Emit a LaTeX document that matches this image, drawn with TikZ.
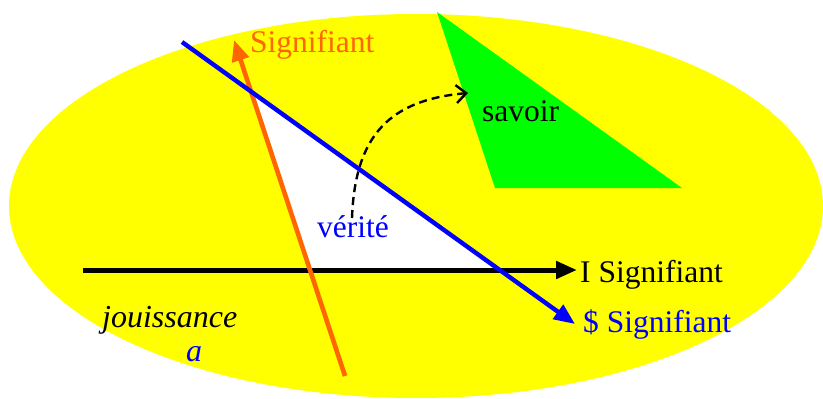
\documentclass[tikz,border=0pt]{standalone}
\usepackage{fontspec}
\setmainfont{Liberation Serif}
\newfontfamily\tnr{Liberation Serif}
\usetikzlibrary{arrows.meta,calc}
\definecolor{yel}{HTML}{FFFF00}
\definecolor{grn}{HTML}{00FF00}
\definecolor{org}{HTML}{FF6600}
\definecolor{blu}{HTML}{0000FF}
\tikzset{
  lbl/.style={anchor=base west,inner sep=0pt,font=\tnr\fontsize{31.5}{36}\selectfont},
  ilbl/.style={anchor=base west,inner sep=0pt,font=\tnr\itshape\fontsize{32}{36}\selectfont},
  bigtip/.style={-{Triangle[length=21pt,width=17pt]}},
}
\begin{document}
\begin{tikzpicture}[x=1pt,y=-1pt]
\useasboundingbox (0,0) rectangle (823,399);
% yellow ellipse
\fill[yel] (416,206) ellipse [x radius=407, y radius=192];
% coordinates of the three lines
\coordinate (oS) at (345,376);
\coordinate (oE) at (234,40);
\coordinate (bS) at (182,42);
\coordinate (bE) at (575,324);
\coordinate (kS) at (83,270);
\coordinate (kE) at (577,270);
% white triangle
\coordinate (t1) at (intersection of oS--oE and bS--bE);
\coordinate (t2) at (intersection of oS--oE and kS--kE);
\coordinate (t3) at (intersection of bS--bE and kS--kE);
\fill[white] (t1) -- (t2) -- (t3) -- cycle;
% green triangle
\coordinate (g1) at (437,12);
\coordinate (g2) at (495,188);
\coordinate (g3) at (682,188);
\fill[grn] (g1) -- (g2) -- (g3) -- cycle;
% lines
\draw[line width=5pt,bigtip] (kS) -- (kE);
\draw[org,line width=4.6pt,bigtip] (oS) -- (oE);
\draw[blu,line width=4.4pt,bigtip] (bS) -- (bE);
% dashed arrow
\coordinate (dS) at (352,218);
\coordinate (dE) at (468,93);
\draw[line width=2.4pt,dash pattern=on 8pt off 5pt,-{Straight Barb[length=10pt,width=18pt,line width=2.4pt]}]
  (dS) .. controls (355,135) and (390,100) .. (dE);
% labels
\node[lbl,text=org] (sig) at (250,52) {Signifiant};
\node[lbl] (sav) at (482,121) {savoir};
\node[lbl,text=blu] (ver) at (317,237) {vérité};
\node[lbl] (isig) at (580,282) {I Signifiant};
\node[lbl,text=blu] (ssig) at (583,332) {\$ Signifiant};
\node[ilbl] (jou) at (102,327) {jouissance};
\node[ilbl,text=blu] (aa) at (186,361) {a};
\end{tikzpicture}
\end{document}
